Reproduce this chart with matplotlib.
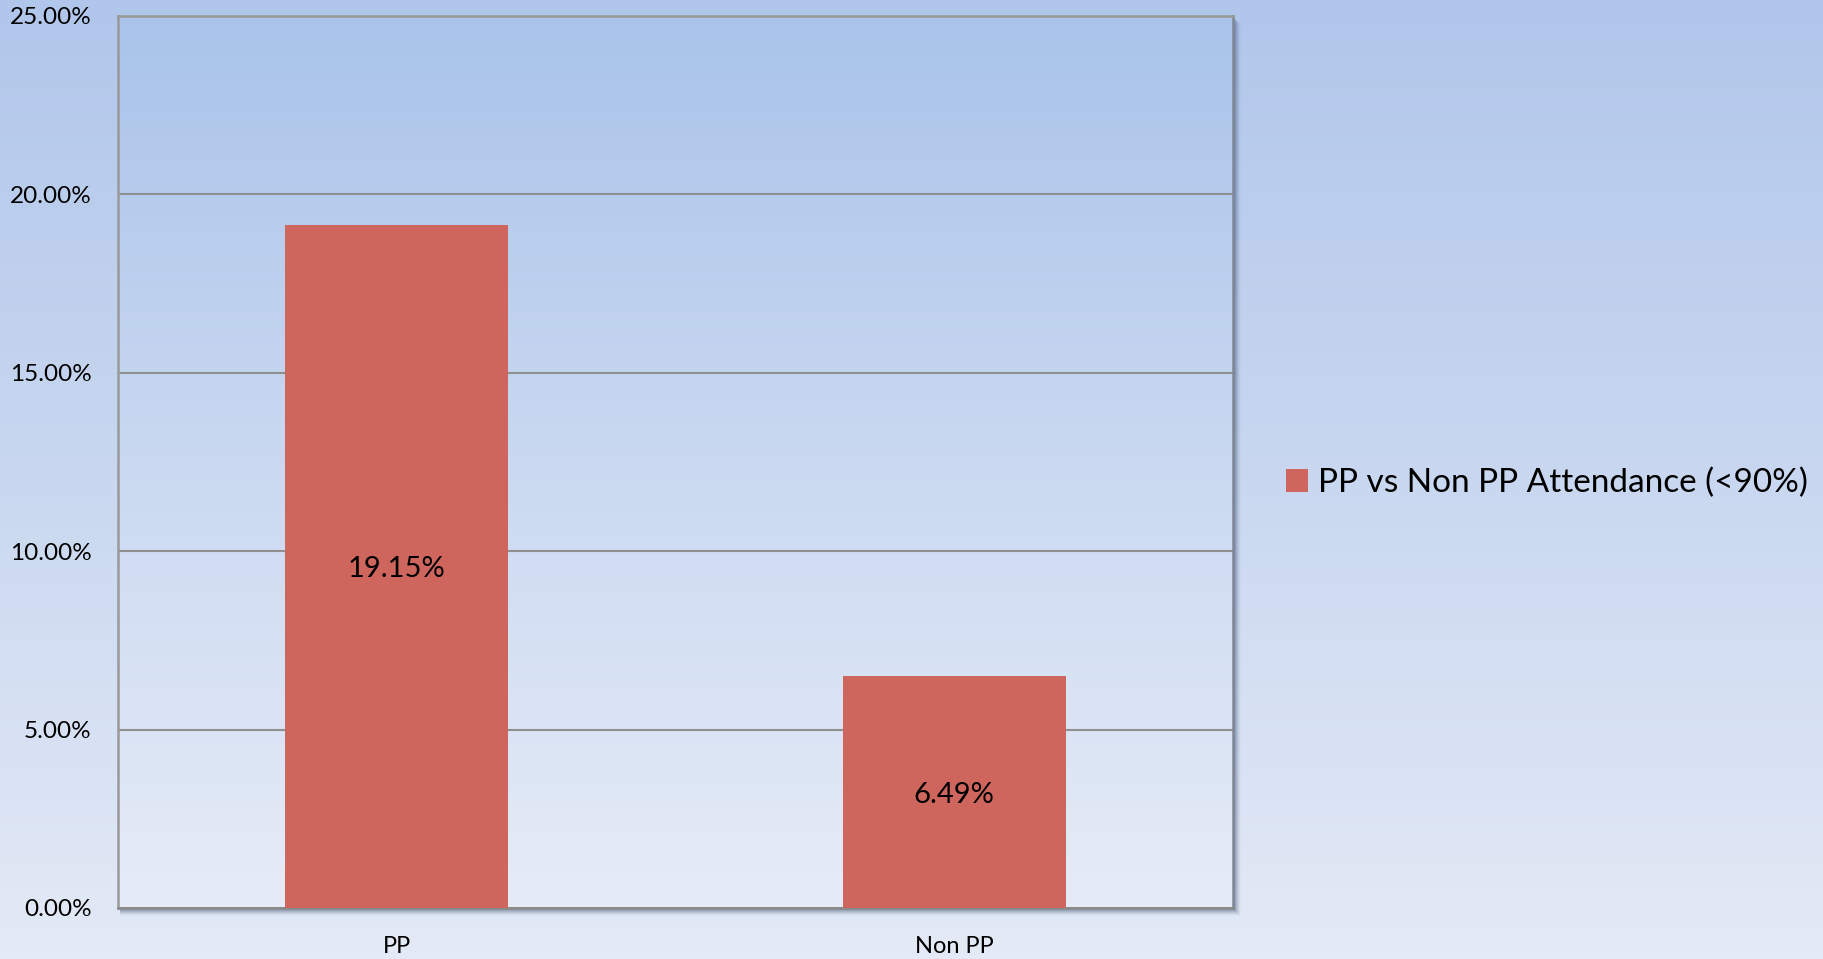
import matplotlib
matplotlib.use("Agg")
import matplotlib.pyplot as plt
from matplotlib.colors import LinearSegmentedColormap
from matplotlib.patches import Rectangle
import numpy as np

# data
categories = ['PP', 'Non PP']
values = [19.15, 6.49]
value_labels = ['19.15%', '6.49%']
series_name = 'PP vs Non PP Attendance (<90%)'
y_ticks = [0, 5, 10, 15, 20, 25]
y_tick_labels = ['0.00%', '5.00%', '10.00%', '15.00%', '20.00%', '25.00%']

plt.rcParams['font.family'] = ['Lato', 'DejaVu Sans']

fig = plt.figure(figsize=(18.23, 9.59), dpi=100)

# figure background gradient
bg = fig.add_axes([0, 0, 1, 1], zorder=-10)
bg_cmap = LinearSegmentedColormap.from_list('bg', ['#e4eaf6', '#c9d8f0', '#b1c6eb'])
bg.imshow(np.linspace(0, 1, 256).reshape(-1, 1), aspect='auto', cmap=bg_cmap,
          origin='lower', extent=[0, 1, 0, 1])
bg.axis('off')

left, bottom, right, top = 118 / 1823, 1 - 908 / 959, 1233 / 1823, 1 - 16 / 959

# drop shadow of the plot area
for i in range(1, 9):
    a = 0.22 * (1 - i / 9)
    fig.patches.append(Rectangle((left + 2 / 1823, bottom - i / 959),
                                 right - left + (i - 2) / 1823, top - bottom,
                                 transform=fig.transFigure, facecolor='#3d4f6e',
                                 alpha=a, edgecolor='none', zorder=-5))

ax = fig.add_axes([left, bottom, right - left, top - bottom])
ax.set_facecolor('none')

# plot area gradient
pa_cmap = LinearSegmentedColormap.from_list('pa', ['#e6ecf7', '#cad9f1', '#a9c3ea'])
ax.imshow(np.linspace(0, 1, 256).reshape(-1, 1), aspect='auto', cmap=pa_cmap,
          origin='lower', extent=[-0.5, 1.5, 0, 25], zorder=0)

x = np.arange(len(categories))
bars = ax.bar(x, values, width=0.4, color='#cf665e', zorder=3, label=series_name)

for xi, v, lab in zip(x, values, value_labels):
    ax.text(xi, v / 2, lab, ha='center', va='center_baseline', fontsize=21,
            color='black', zorder=4)

ax.set_xlim(-0.5, 1.5)
ax.set_ylim(0, 25)
ax.set_yticks(y_ticks)
ax.set_yticklabels(y_tick_labels, fontsize=17.5)
ax.set_xticks(x)
ax.set_xticklabels(categories, fontsize=17)
ax.tick_params(axis='y', length=0, pad=19)
ax.tick_params(axis='x', length=0, pad=20)
ax.yaxis.grid(True, color='#8f8f8f', linewidth=1.5, zorder=1)
ax.set_axisbelow(True)

for s in ['left', 'top']:
    ax.spines[s].set_color('#999999')
    ax.spines[s].set_linewidth(1.8)
ax.spines['right'].set_color('#7f8797')
ax.spines['right'].set_linewidth(1.8)
ax.spines['bottom'].set_color('#8a8a8a')
ax.spines['bottom'].set_linewidth(1.8)

ax.legend(loc='center left', bbox_to_anchor=(1256 / 1823, 1 - 483 / 959),
          bbox_transform=fig.transFigure, frameon=False, fontsize=24,
          handlelength=0.65, handleheight=0.65, handletextpad=0.3)

fig.savefig('out.png', dpi=100)
